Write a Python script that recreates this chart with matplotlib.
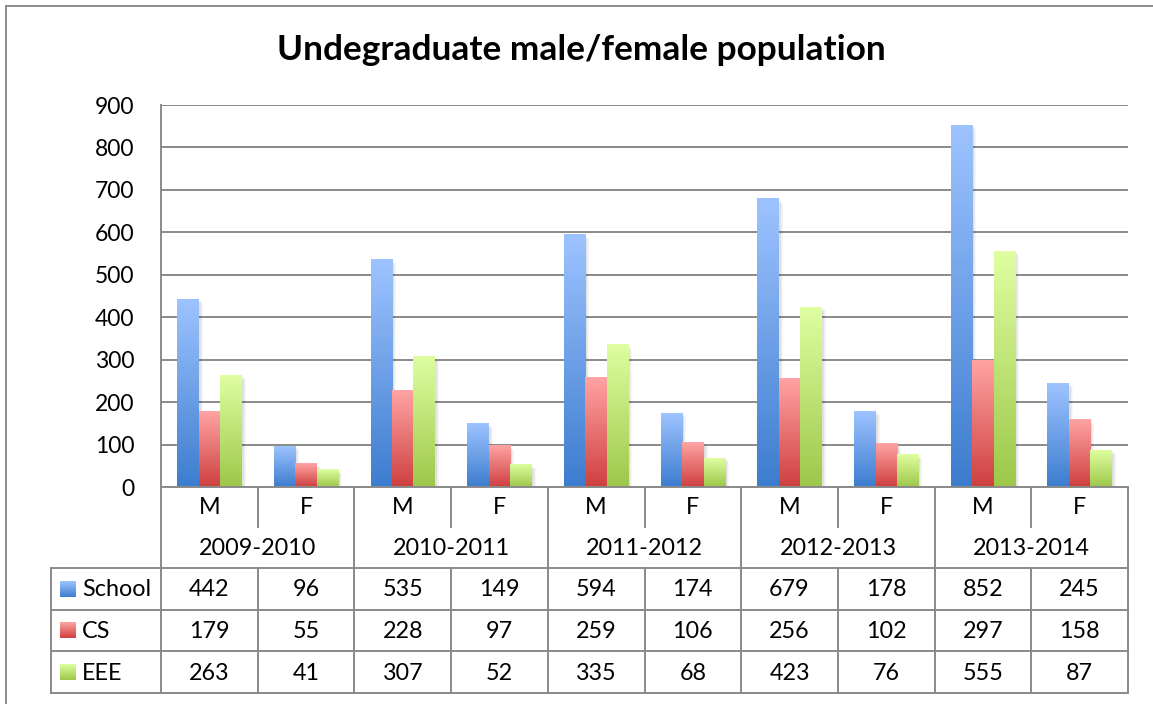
import numpy as np
import matplotlib
matplotlib.use('Agg')
import matplotlib.pyplot as plt
from matplotlib.patches import Rectangle
from matplotlib.colors import to_rgb

plt.rcParams['font.family'] = ['Lato', 'DejaVu Sans']

# 数据
years = ['2009-2010', '2010-2011', '2011-2012', '2012-2013', '2013-2014']
sexes = ['M', 'F']
series_names = ['School', 'CS', 'EEE']
school = [442, 96, 535, 149, 594, 174, 679, 178, 852, 245]
cs = [179, 55, 228, 97, 259, 106, 256, 102, 297, 158]
eee = [263, 41, 307, 52, 335, 68, 423, 76, 555, 87]
y_ticks = [0, 100, 200, 300, 400, 500, 600, 700, 800, 900]

# 渐变颜色 (上, 下)
grad_colors = [('#9dc3ff', '#3d7dcf'), ('#ffa3a3', '#cf4040'), ('#defea0', '#9dc84a')]
grid_col = '#8a8a8a'

W, H = 1153, 704
left_px, right_px, top_px, bot_px = 161, 1128, 105, 487
n_cat = len(school)
cat_w = (right_px - left_px) / n_cat
fs = 16.8


def gradient(top, bottom, n=64):
    t = np.linspace(0, 1, n)[:, None, None]
    return (1 - t) * np.array(to_rgb(top)) + t * np.array(to_rgb(bottom))


fig = plt.figure(figsize=(W / 100, H / 100), dpi=100)
ax = fig.add_axes([left_px / W, 1 - bot_px / H, (right_px - left_px) / W, (bot_px - top_px) / H])
ax.set_xlim(0, n_cat)
ax.set_ylim(0, 900)

bar_w = 1 / 4.5
x = np.arange(n_cat) + 0.5
dx_px = n_cat / (right_px - left_px)
dy_px = 900 / (bot_px - top_px)
for i, vals in enumerate([school, cs, eee]):
    for xc, v in zip(x, vals):
        x0 = xc + (i - 1.5) * bar_w
        # 阴影
        for k, a in [(4, 0.03), (3, 0.04), (2, 0.05)]:
            ax.add_patch(Rectangle((x0 + k * dx_px, -k * dy_px), bar_w, v, color='black',
                                   alpha=a, lw=0, zorder=2))
        ax.imshow(gradient(*grad_colors[i]), extent=[x0, x0 + bar_w, 0, v], origin='upper',
                  aspect='auto', zorder=3 + i, interpolation='bilinear')
ax.set_xlim(0, n_cat)
ax.set_ylim(0, 900)

ax.set_yticks(y_ticks)
ax.yaxis.grid(True, color=grid_col, lw=1.4)
ax.set_axisbelow(True)
ax.tick_params(axis='y', length=0, pad=19, labelsize=16.5)
ax.set_xticks([])
for s in ['top', 'right', 'bottom']:
    ax.spines[s].set_visible(False)
ax.spines['left'].set_color(grid_col)
ax.spines['left'].set_linewidth(1.4)

# 表格层 (像素坐标)
ov = fig.add_axes([0, 0, 1, 1])
ov.set_xlim(0, W)
ov.set_ylim(H, 0)
ov.axis('off')

tbl_left = 51
row_y = [487, 527, 568, 610, 651, 693]
lk = dict(color=grid_col, lw=1.4, solid_capstyle='projecting')

# 外框
ov.plot([6, 6], [6, H], color='#8c8c8c', lw=1.4)
ov.plot([6, W], [6, 6], color='#8c8c8c', lw=1.4)

ov.plot([left_px, right_px], [row_y[0], row_y[0]], **lk)
for yy in row_y[2:]:
    ov.plot([tbl_left, right_px], [yy, yy], **lk)
ov.plot([tbl_left, tbl_left], [row_y[2], row_y[5]], **lk)
for k in range(n_cat + 1):
    xx = left_px + k * cat_w
    if k % 2 == 0:
        ov.plot([xx, xx], [row_y[0], row_y[5]], **lk)
    else:
        ov.plot([xx, xx], [row_y[0], row_y[1]], **lk)
        ov.plot([xx, xx], [row_y[2], row_y[5]], **lk)

for k in range(n_cat):
    xc = left_px + (k + 0.5) * cat_w
    ov.text(xc, (row_y[0] + row_y[1]) / 2 + 1, sexes[k % 2], ha='center', va='center', fontsize=fs)
for j, yr in enumerate(years):
    xc = left_px + (2 * j + 1) * cat_w
    ov.text(xc, (row_y[1] + row_y[2]) / 2 + 1, yr, ha='center', va='center', fontsize=fs)

for i, (name, vals) in enumerate(zip(series_names, [school, cs, eee])):
    yc = (row_y[2 + i] + row_y[3 + i]) / 2
    ov.imshow(gradient(*grad_colors[i]), extent=[60, 76, yc + 8, yc - 8], origin='upper',
              aspect='auto', interpolation='bilinear')
    ov.text(82, yc + 1, name, ha='left', va='center', fontsize=fs)
    for k, v in enumerate(vals):
        ov.text(left_px + (k + 0.5) * cat_w, yc + 1, str(v), ha='center', va='center', fontsize=fs)
ov.set_xlim(0, W)
ov.set_ylim(H, 0)

fig.text(581 / W, 1 - 50 / H, 'Undegraduate male/female population', ha='center', va='center',
         fontsize=25.4, fontweight='bold')

fig.savefig('out.png', dpi=100)
